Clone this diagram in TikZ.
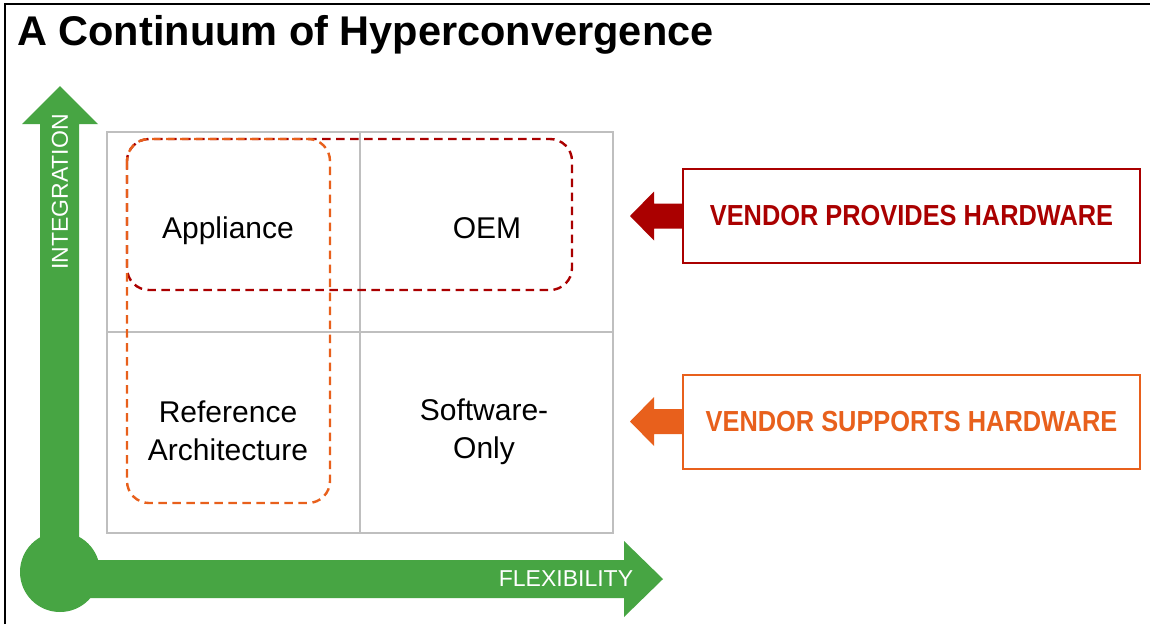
\documentclass[tikz,border=0pt]{standalone}
\usepackage{fontspec}
\setmainfont{Liberation Sans}
\newfontfamily\tagfont[FakeStretch=0.875]{Liberation Sans}

\definecolor{axisgreen}{RGB}{71,165,67}
\definecolor{vendorred}{HTML}{AA0000}
\definecolor{vendororange}{HTML}{E8601C}

\tikzset{
  cell/.style={align=center, inner sep=0pt, font=\fontsize{30}{38}\selectfont},
  axislabel/.style={text=white, inner sep=0pt, font=\fontsize{23}{23}\selectfont},
  tagbox/.style={draw, line width=2pt, minimum width=457pt, minimum height=94pt,
    font=\tagfont\bfseries\fontsize{29}{34}\selectfont},
  region/.style={line width=2.4pt, rounded corners=22pt, dash pattern=on 8.5pt off 5.5pt}
}

\begin{document}
\begin{tikzpicture}[x=1pt, y=-1pt]

    \useasboundingbox (0,0) rectangle (1150,624);
    \fill[white] (0,0) rectangle (1150,624);
    \draw[line width=2pt] (5,624) -- (5,4) -- (1150,4);

    \node[anchor=base west, inner sep=0pt, font=\bfseries\fontsize{41.5}{48}\selectfont] (title) at (17,45) {A Continuum of Hyperconvergence};

    \draw[gray!50, line width=1.6pt] (107,132) rectangle (613,533) (360,132) -- (360,533) (107,332) -- (613,332);

    \fill[axisgreen] (40,124) -- (22,124) -- (60,86) -- (98,124) -- (79,124) -- (79,579) -- (40,579) -- cycle;
    \fill[axisgreen] (60,560) -- (624,560) -- (624,541) -- (663,579) -- (624,617) -- (624,598) -- (60,598) -- cycle;
    \fill[axisgreen] (60,572) circle[radius=40pt];
    \node[axislabel, rotate=90] (integration) at (60,192) {INTEGRATION};
    \node[axislabel] (flexibility) at (566,579) {FLEXIBILITY};

    \node[cell, anchor=base] (appliance) at (228,238) {Appliance};
    \node[cell, anchor=base] (oem) at (487,238) {OEM};
    \node[cell] (refarch) at (228,431) {Reference\\Architecture};
    \node[cell] (swonly) at (484,432) {Software-\\Only};

    \draw[region, vendorred] (127,139) rectangle (572,290);
    \draw[region, vendororange] (127,139) rectangle (330,503);

    \node[tagbox, draw=vendorred, text=vendorred] (provides) at (911.5,216) {VENDOR PROVIDES HARDWARE};
    \node[tagbox, draw=vendororange, text=vendororange] (supports) at (911.5,421.5) {VENDOR SUPPORTS HARDWARE};

    \fill[vendorred] (provides.west) ++(0,-12.5) -- ++(-28,0) -- ++(0,-12) -- ++(-24,24.5) -- ++(24,24.5) -- ++(0,-12) -- ++(28,0) -- cycle;
    \fill[vendororange] (supports.west) ++(0,-12.5) -- ++(-28,0) -- ++(0,-12) -- ++(-24,24.5) -- ++(24,24.5) -- ++(0,-12) -- ++(28,0) -- cycle;

\end{tikzpicture}
\end{document}
